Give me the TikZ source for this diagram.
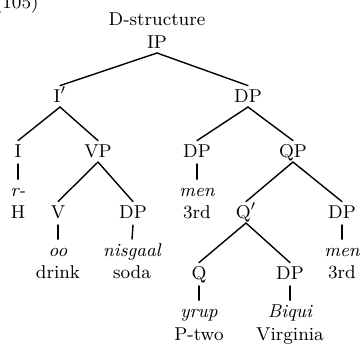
\documentclass[tikz,border=0pt]{standalone}
\begin{document}
\begin{tikzpicture}[x=0.5pt,y=-0.5pt,
  every node/.style={font=\fontsize{9.3}{11}\selectfont, inner sep=0pt, outer sep=0pt},
  cat/.style={anchor=base, text height=6.4pt, text depth=0pt},
  lex/.style={anchor=base, text height=6.4pt, text depth=0pt,
              font=\fontsize{9.3}{11}\selectfont\itshape},
  gloss/.style={anchor=base},
  treeline/.style={line width=0.7pt, line cap=round}]
\useasboundingbox (0,0) rectangle (361,345);
\clip (0,0) rectangle (361,345);

% example number and title
\node[gloss, anchor=base west] (num) at (-5,8) {(105)};
\node[gloss] (ds) at (157,25) {D-structure};

% category labels
\node[cat] (ip)   at (157,48)  {IP};
\node[cat] (ibar) at (60,102)  {I$'$};
\node[cat] (dpa)  at (248,102) {DP};
\node[cat] (i)    at (18,157)  {I};
\node[cat] (vp)   at (98,157)  {VP};
\node[cat] (dpb)  at (197,157) {DP};
\node[cat] (qp)   at (293,157) {QP};
\node[cat] (v)    at (58,218)  {V};
\node[cat] (dpc)  at (133,218) {DP};
\node[cat] (qbar) at (246,218) {Q$'$};
\node[cat] (dpd)  at (342,218) {DP};
\node[cat] (q)    at (199,279) {Q};
\node[cat] (dpe)  at (290,279) {DP};

% lexical items and glosses
\node[lex]   (r)       at (18,196)  {r-};
\node[gloss] (h)       at (18,218)  {H};
\node[lex]   (mena)    at (197,196) {men};
\node[gloss] (thirda)  at (197,218) {3rd};
\node[lex]   (oo)      at (58,256)  {oo};
\node[gloss] (drink)   at (58,278)  {drink};
\node[lex]   (nisgaal) at (132,256) {nisgaal};
\node[gloss] (soda)    at (132,278) {soda};
\node[lex]   (menb)    at (342,256) {men};
\node[gloss] (thirdb)  at (342,278) {3rd};
\node[lex]   (yrup)    at (199,317) {yrup};
\node[gloss] (ptwo)    at (199,340) {P-two};
\node[lex]   (biqui)   at (290,317) {Biqui};
\node[gloss] (virg)    at (290,340) {Virginia};

% branching edges
\foreach \p/\c in {ip/ibar, ip/dpa, ibar/i, ibar/vp, dpa/dpb, dpa/qp,
                   vp/v, vp/dpc, qp/qbar, qp/dpd, qbar/q, qbar/dpe}
  \draw[treeline] ([yshift=-2.5pt]\p.south) -- ([yshift=1.8pt]\c.north);

% non-branching edges
\foreach \p/\c in {i/r, dpb/mena, v/oo, dpc/nisgaal, dpd/menb, q/yrup, dpe/biqui}
  \draw[treeline] ([yshift=-3.5pt]\p.south) -- ([yshift=2pt]\c.north);
\end{tikzpicture}
\end{document}
